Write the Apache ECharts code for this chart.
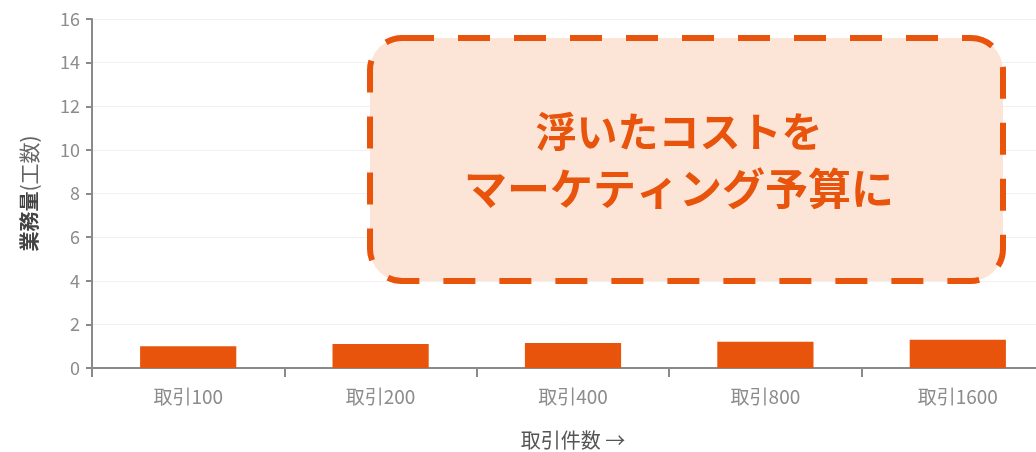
<!DOCTYPE html>
<html>
<head>
<meta charset="utf-8">
<script src="https://cdn.jsdelivr.net/npm/echarts@6/dist/echarts.min.js"></script>
<style>
  html, body { margin: 0; padding: 0; background: #fff; }
  #chart { width: 1036px; height: 452px; }
</style>
</head>
<body>
<div id="chart"></div>
<script>
// Workload (man-hours) per transaction volume
const categories = ['取引100', '取引200', '取引400', '取引800', '取引1600'];
const workload = [1.0, 1.1, 1.15, 1.2, 1.3];
const yTicks = { min: 0, max: 16, interval: 2 };
const calloutLines = ['浮いたコストを', 'マーケティング予算に'];

const ORANGE = '#E8540C';
const FONT = '"Noto Sans CJK JP", "Noto Sans", sans-serif';

const chart = echarts.init(document.getElementById('chart'), null, { renderer: 'canvas' });

chart.setOption({
  animation: false,
  textStyle: { fontFamily: FONT },
  grid: {
    left: 92, top: 19, width: 962, bottom: 84,
    containLabel: false,
    outerBoundsMode: 'none'
  },
  xAxis: {
    type: 'category',
    data: categories,
    name: '取引件数 →',
    nameLocation: 'middle',
    nameGap: 62,
    nameTextStyle: { color: '#555', fontSize: 20, fontFamily: FONT },
    axisLine: { lineStyle: { color: '#8a8a8a', width: 2 } },
    axisTick: { show: true, length: 9, lineStyle: { color: '#8a8a8a', width: 2 } },
    axisLabel: { color: '#8c8c8c', fontSize: 19, margin: 19, fontFamily: FONT }
  },
  yAxis: {
    type: 'value',
    min: yTicks.min,
    max: yTicks.max,
    interval: yTicks.interval,
    name: '{b|業務量}{n|(工数)}',
    nameLocation: 'middle',
    nameGap: 52,
    nameRotate: 90,
    nameTextStyle: {
      color: '#555',
      fontSize: 20,
      fontFamily: FONT,
      rich: {
        b: { fontSize: 20, fontWeight: 'bold', color: '#444', fontFamily: FONT },
        n: { fontSize: 21, fontWeight: 'normal', color: '#666', fontFamily: FONT }
      }
    },
    axisLine: { show: true, lineStyle: { color: '#8a8a8a', width: 2 } },
    axisTick: { show: true, length: 6, lineStyle: { color: '#8a8a8a', width: 2 } },
    axisLabel: { color: '#8c8c8c', fontSize: 18, margin: 12, fontFamily: FONT },
    splitLine: { lineStyle: { color: '#f0f0f0', width: 1 } }
  },
  series: [{
    type: 'bar',
    data: workload,
    barWidth: '50%',
    itemStyle: { color: ORANGE },
    z: 3
  }],
  graphic: [{
    type: 'group',
    left: 367,
    top: 35,
    children: [
      {
        type: 'rect',
        shape: { x: 0, y: 0, width: 633, height: 243, r: 32 },
        style: {
          fill: '#FCE4D6',
          stroke: ORANGE,
          lineWidth: 6,
          lineDash: [32, 24]
        },
        z: 10
      },
      {
        type: 'text',
        x: 309,
        y: 93,
        style: {
          text: calloutLines[0],
          fill: ORANGE,
          font: 'bold 41px ' + FONT,
          textAlign: 'center',
          textVerticalAlign: 'middle'
        },
        z: 11
      },
      {
        type: 'text',
        x: 309,
        y: 151,
        style: {
          text: calloutLines[1],
          fill: ORANGE,
          font: 'bold 43px ' + FONT,
          textAlign: 'center',
          textVerticalAlign: 'middle'
        },
        z: 11
      }
    ]
  }]
});
</script>
</body>
</html>
